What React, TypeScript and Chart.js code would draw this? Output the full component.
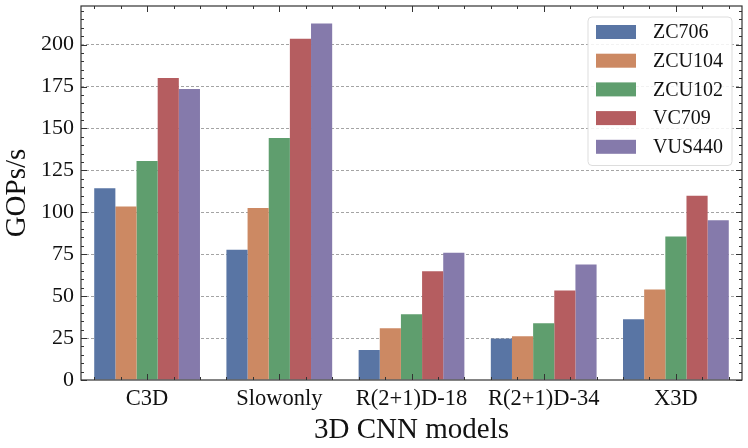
import { useEffect, useRef } from "react"
import { Chart, registerables } from "chart.js"

Chart.register(...registerables)

// categories and series (GOPs/s)
const models = ["C3D", "Slowonly", "R(2+1)D-18", "R(2+1)D-34", "X3D"]
const boards = ["ZC706", "ZCU104", "ZCU102", "VC709", "VUS440"]
const zc706 = [114.4, 77.6, 17.9, 24.7, 36.2]
const zcu104 = [103.5, 102.5, 30.8, 26.1, 53.9]
const zcu102 = [130.6, 144.3, 39.2, 33.8, 85.6]
const vc709 = [180.1, 203.4, 64.9, 53.3, 109.9]
const vus440 = [173.5, 212.5, 75.8, 68.8, 95.3]
const yTicks = [0, 25, 50, 75, 100, 125, 150, 175, 200]

// seaborn "deep" at 0.75 saturation
const colors = ["#5975a4", "#cc8963", "#5f9e6e", "#b55d60", "#857aab"]
const FONT = "'Liberation Serif', 'DejaVu Serif', serif"

// inside ticks on all four sides plus the box around the plot
const framePlugin = {
  id: "frame",
  afterDatasetsDraw(chart: any) {
    const { ctx, chartArea: a, scales } = chart
    const y = scales.y
    const x = scales.x
    ctx.save()
    ctx.strokeStyle = "#333"
    ctx.lineWidth = 1
    ctx.beginPath()
    for (let v = 0; v <= y.max; v += 5) {
      const py = Math.round(y.getPixelForValue(v)) + 0.5
      const len = v % 25 === 0 ? 6 : 3
      ctx.moveTo(a.left, py)
      ctx.lineTo(a.left + len, py)
      ctx.moveTo(a.right, py)
      ctx.lineTo(a.right - len, py)
    }
    for (let k = -2; k <= (models.length - 1) * 5 + 2; k++) {
      const px = Math.round(x.getPixelForValue(k / 5)) + 0.5
      const len = k % 5 === 0 ? 6 : 3
      ctx.moveTo(px, a.top)
      ctx.lineTo(px, a.top + len)
      ctx.moveTo(px, a.bottom)
      ctx.lineTo(px, a.bottom - len)
    }
    ctx.stroke()
    ctx.lineWidth = 1.2
    ctx.strokeRect(a.left, a.top, a.right - a.left, a.bottom - a.top)
    ctx.restore()
  },
}

// legend drawn inside the plot, top right
const legendPlugin = {
  id: "insideLegend",
  afterDraw(chart: any) {
    const { ctx, chartArea: a } = chart
    const sets = chart.data.datasets
    const w = 144
    const rowH = 28.7
    const h = rowH * sets.length + 5
    const left = a.right - 10 - w
    const top = a.top + 11
    ctx.save()
    ctx.beginPath()
    ctx.roundRect(left, top, w, h, 4)
    ctx.fillStyle = "rgba(255,255,255,0.85)"
    ctx.fill()
    ctx.strokeStyle = "#dddddd"
    ctx.lineWidth = 1
    ctx.stroke()
    ctx.font = `20px ${FONT}`
    ctx.textBaseline = "middle"
    sets.forEach((ds: any, i: number) => {
      const cy = top + 15 + i * rowH
      ctx.fillStyle = ds.backgroundColor
      ctx.fillRect(left + 8, cy - 7, 40, 14)
      ctx.fillStyle = "#111"
      ctx.fillText(ds.label, left + 65, cy + 1)
    })
    ctx.restore()
  },
}

export default function App() {
  const canvasRef = useRef<HTMLCanvasElement | null>(null)
  const chartRef = useRef<Chart | null>(null)

  useEffect(() => {
    if (!canvasRef.current) return
    const ctx = canvasRef.current.getContext("2d")
    if (!ctx) return
    if (chartRef.current) chartRef.current.destroy()

    const series = [zc706, zcu104, zcu102, vc709, vus440]

    chartRef.current = new Chart(ctx, {
      type: "bar",
      data: {
        labels: models,
        datasets: boards.map((b, i) => ({
          label: b,
          data: series[i],
          backgroundColor: colors[i],
          borderWidth: 0,
          categoryPercentage: 0.8,
          barPercentage: 1.0,
        })),
      },
      options: {
        responsive: false,
        animation: false,
        layout: { padding: { left: 0, right: 6, top: 6, bottom: 0 } },
        plugins: {
          legend: { display: false },
          tooltip: { enabled: false },
        },
        scales: {
          x: {
            grid: { display: false, drawTicks: false },
            border: { display: false },
            ticks: {
              color: "#111",
              padding: 6,
              font: { family: FONT, size: 22.5 },
              maxRotation: 0,
            },
            title: {
              display: true,
              text: "3D CNN models",
              color: "#111",
              font: { family: FONT, size: 29 },
              padding: { top: 0, bottom: 0 },
            },
            afterFit: (s: any) => {
              s.height = 68
              s.paddingLeft = 0
              s.paddingRight = 0
            },
          },
          y: {
            min: 0,
            max: 223,
            afterBuildTicks: (s: any) => {
              s.ticks = yTicks.map((v) => ({ value: v }))
            },
            grid: {
              drawTicks: false,
              color: (c: any) => (c.tick && c.tick.value === 0 ? "rgba(0,0,0,0)" : "#9a9a9a"),
              lineWidth: 0.9,
            },
            border: { display: false, dash: [3, 2] },
            ticks: {
              color: "#111",
              padding: 7,
              font: { family: FONT, size: 22 },
            },
            title: {
              display: true,
              text: "GOPs/s",
              color: "#111",
              font: { family: FONT, size: 29 },
              padding: { top: 0, bottom: 0 },
            },
            afterFit: (s: any) => {
              s.width = 81
              s.paddingTop = 0
              s.paddingBottom = 0
            },
          },
        },
      },
      plugins: [framePlugin, legendPlugin],
    })

    return () => {
      if (chartRef.current) {
        chartRef.current.destroy()
        chartRef.current = null
      }
    }
  }, [])

  return (
    <div style={{ position: "absolute", left: 0, top: 0, width: 748, height: 448, background: "#fff" }}>
      <canvas ref={canvasRef} width={748} height={448} style={{ width: 748, height: 448 }} />
    </div>
  )
}
